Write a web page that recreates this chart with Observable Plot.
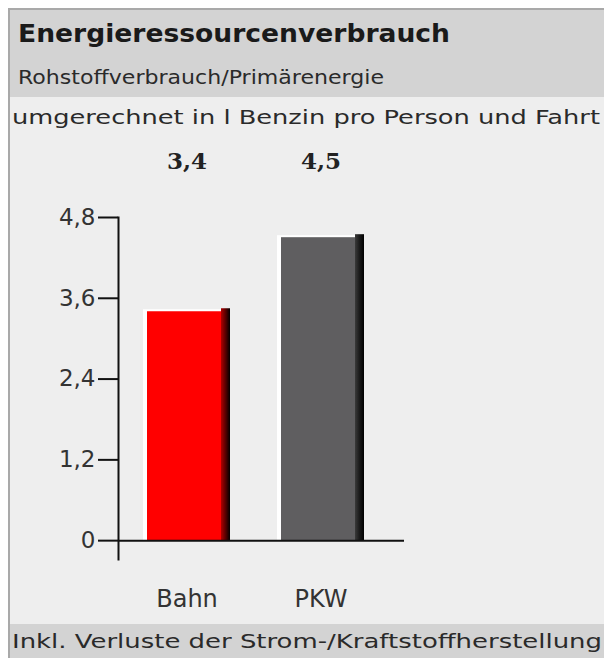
<!DOCTYPE html>
<html>
<head>
<meta charset="utf-8">
<script src="https://cdn.jsdelivr.net/npm/d3@7"></script>
<script src="https://cdn.jsdelivr.net/npm/@observablehq/plot@0.6"></script>
<style>
  html, body { margin: 0; padding: 0; background: #ffffff; }
  #page { position: relative; width: 604px; height: 658px; overflow: hidden; background: #fff; }
  #box { position: absolute; left: 8px; top: 8px; width: 596px; height: 650px;
         border-left: 2px solid #a9a9a9; border-top: 2px solid #a9a9a9; background: #eeeeee; }
  .band { position: absolute; left: 10px; width: 594px; background: #d3d3d3; }
  .t { position: absolute; white-space: nowrap; line-height: 1; font-family: "DejaVu Sans", sans-serif; color: #2a2a2a; transform-origin: 0 0; }
  #chart { position: absolute; left: 10px; top: 130px; }
</style>
</head>
<body>
<div id="page">
  <div id="box"></div>
  <div class="band" style="top:10px;height:87px;"></div>
  <div class="band" style="top:624px;height:34px;"></div>
  <div class="t" id="title" data-w="432" data-x="18" data-b="42" style="font-weight:bold;font-size:25px;color:#1a1a1a;"></div>
  <div class="t" id="sub" data-w="366" data-x="18" data-b="84" style="font-size:20px;"></div>
  <div class="t" id="unit" data-w="588" data-x="12" data-b="124" style="font-size:20px;"></div>
  <div class="t" id="cap" data-w="590" data-x="12" data-b="648" style="font-size:20px;"></div>
  <div id="chart"></div>
</div>
<script>
// ---- data ----
const titleText = "Energieressourcenverbrauch";
const subtitleText = "Rohstoffverbrauch/Primärenergie";
const unitText = "umgerechnet in l Benzin pro Person und Fahrt";
const captionText = "Inkl. Verluste der Strom-/Kraftstoffherstellung";
const categories = ["Bahn", "PKW"];
const values = [3.4, 4.5];
const valueLabels = ["3,4", "4,5"];
const yTicks = [0, 1.2, 2.4, 3.6, 4.8];

// ---- styles ----
const bodyColors = ["#ff0000", "#5f5e60"];
const shadeIds = ["shadeBahn", "shadePKW"];

document.getElementById("title").textContent = titleText;
document.getElementById("sub").textContent = subtitleText;
document.getElementById("unit").textContent = unitText;
document.getElementById("cap").textContent = captionText;

// stretch header/caption texts horizontally to the reference widths
for (const el of document.querySelectorAll(".t")) {
  const target = +el.dataset.w;
  const w = el.getBoundingClientRect().width;
  const fs = parseFloat(el.style.fontSize);
  el.style.transform = `scaleX(${target / w})`;
  el.style.left = el.dataset.x + "px";
  el.style.top = (+el.dataset.b - fs * 0.846) + "px";
}

const data = categories.map((c, i) => ({category: c, value: values[i], label: valueLabels[i], i}));

const defs = () => {
  const g = document.createElementNS("http://www.w3.org/2000/svg", "g");
  g.innerHTML = `<defs>
    <linearGradient id="shadeBahn" x1="0" x2="1" y1="0" y2="0">
      <stop offset="0" stop-color="#b00000"/><stop offset="0.5" stop-color="#5a0000"/><stop offset="1" stop-color="#000"/>
    </linearGradient>
    <linearGradient id="shadePKW" x1="0" x2="1" y1="0" y2="0">
      <stop offset="0" stop-color="#3a3a3a"/><stop offset="0.5" stop-color="#1a1a1a"/><stop offset="1" stop-color="#000"/>
    </linearGradient>
  </defs>`;
  return g;
};

const fmt = d => String(d).replace(".", ",");

const plot = Plot.plot({
  width: 594,
  height: 495,
  marginLeft: 108,
  marginRight: 200,
  marginTop: 87,
  marginBottom: 66,
  style: {background: "transparent", fontFamily: "'DejaVu Sans', sans-serif", color: "#111", overflow: "visible"},
  x: {domain: categories, range: [109, 377], paddingInner: 0.351, paddingOuter: 0.1755, label: null},
  y: {domain: [-0.28, 4.8], label: null},
  marks: [
    defs,
    // white highlight (top + left edge)
    Plot.barY(data, {x: "category", y1: 0, y2: "value", fill: "#ffffff", insetTop: -2, insetRight: 9}),
    // bar body
    Plot.barY(data, {x: "category", y1: 0, y2: "value", fill: d => bodyColors[d.i], insetLeft: 4, insetRight: 9}),
    // right-side shadow strips
    ...data.map((d, k) => Plot.barY([d], {x: "category", y1: 0, y2: "value", fill: `url(#${shadeIds[k]})`, insetLeft: 78, insetTop: -3})),
    Plot.frame({anchor: "left", stroke: "#111", strokeWidth: 2}),
    Plot.ruleY([0], {stroke: "#111", strokeWidth: 2}),
    Plot.axisY({ticks: yTicks, tickFormat: fmt, tickSize: 20, tickPadding: 3, fontSize: 23, stroke: "#111", strokeWidth: 2, fill: "#333"}),
    Plot.axisX({tickSize: 0, tickPadding: 30, fontSize: 24, fill: "#333"}),
    Plot.text(data, {x: "category", text: "label", frameAnchor: "top", dy: -65,
      fontFamily: "'DejaVu Serif', serif", fontWeight: "bold", fontSize: 23, fill: "#222"})
  ]
});
document.getElementById("chart").appendChild(plot);
</script>
</body>
</html>
